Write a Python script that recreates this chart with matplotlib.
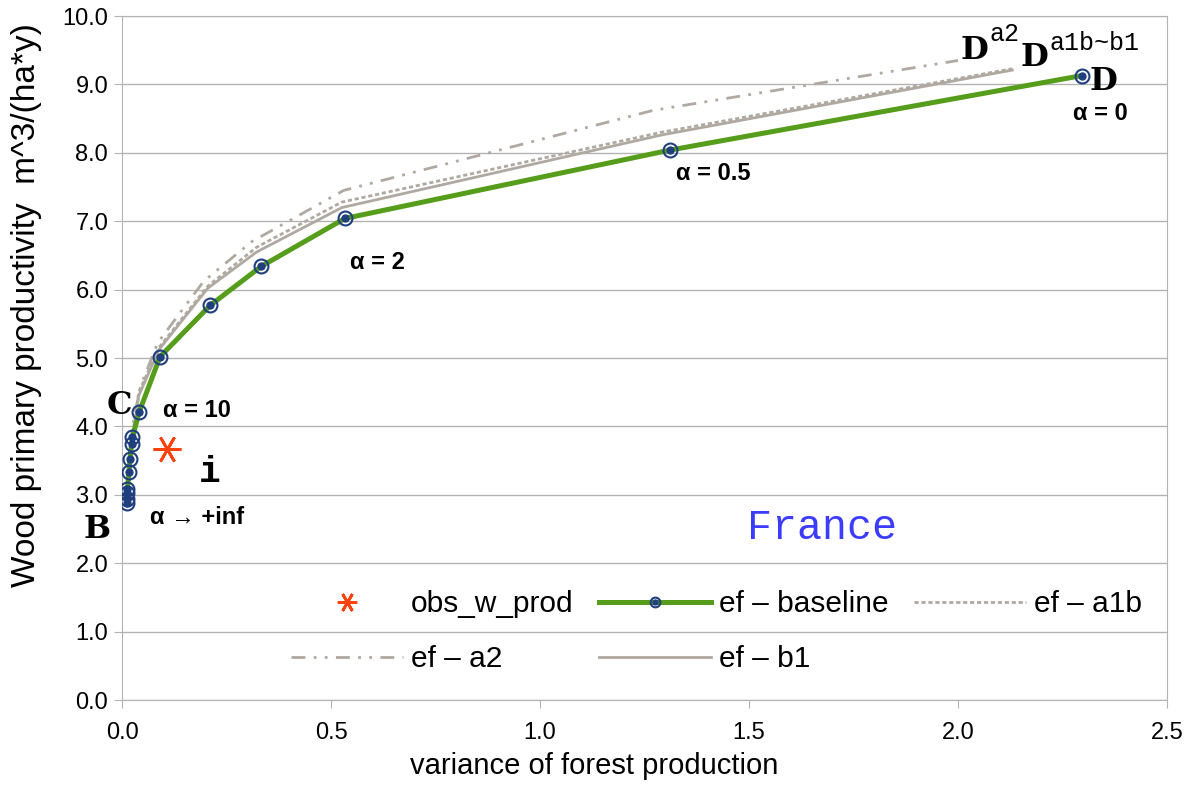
import numpy as np
import matplotlib.pyplot as plt
from matplotlib.legend_handler import HandlerTuple

# efficient frontier under the baseline climate
base_var = [0.011, 0.011, 0.012, 0.013, 0.017, 0.019, 0.023, 0.025, 0.041,
            0.091, 0.211, 0.333, 0.533, 1.311, 2.297]
base_prod = [2.88, 2.94, 3.03, 3.09, 3.34, 3.52, 3.75, 3.84, 4.21,
             5.02, 5.77, 6.34, 7.04, 8.04, 9.13]

# frontiers under the climate scenarios
scen_var = [0.010, 0.015, 0.025, 0.040, 0.088, 0.205, 0.322, 0.526, 1.29, 2.13]
a1b_prod = [2.90, 3.33, 3.88, 4.50, 5.15, 6.05, 6.62, 7.28, 8.30, 9.23]
b1_prod = [2.88, 3.30, 3.85, 4.45, 5.12, 6.02, 6.55, 7.20, 8.26, 9.21]
a2_var = [0.010, 0.015, 0.025, 0.045, 0.085, 0.195, 0.31, 0.53, 1.27, 2.0]
a2_prod = [2.92, 3.40, 4.00, 4.60, 5.22, 6.12, 6.70, 7.45, 8.62, 9.35]

# observed wood production
obs_var = [0.108]
obs_prod = [3.67]

green = '#579d1c'
navy = '#1f3f7f'
grey = '#b0a9a1'
red = '#ff420e'

plt.rcParams['font.family'] = ['Liberation Sans', 'DejaVu Sans']

fig = plt.figure(figsize=(11.94, 7.9), dpi=100)
ax = fig.add_axes([0.1022, 0.1139, 0.8752, 0.8658])

ax.set_xlim(0, 2.5)
ax.set_ylim(0, 10)
ax.set_xticks(np.arange(0, 2.51, 0.5))
ax.set_yticks(np.arange(0, 10.01, 1.0))
ax.set_xticklabels(['%.1f' % v for v in np.arange(0, 2.51, 0.5)])
ax.set_yticklabels(['%.1f' % v for v in np.arange(0, 10.01, 1.0)])
ax.yaxis.grid(True, color='#b3b3b3', linewidth=1)
ax.set_axisbelow(True)
for s in ax.spines.values():
    s.set_color('#b3b3b3')
ax.tick_params(colors='#b3b3b3', labelcolor='black', labelsize=17, length=6)
ax.tick_params(axis='x', pad=10)
ax.tick_params(axis='y', pad=4)

b1_line, = ax.plot(scen_var, b1_prod, color=grey, lw=2, zorder=2)
a1b_line, = ax.plot(scen_var, a1b_prod, color=grey, lw=2, dashes=(1.5, 1), zorder=2)
a2_line, = ax.plot(a2_var, a2_prod, color=grey, lw=2,
                   dashes=(5, 3, 1, 3, 1, 3), zorder=2)

base_line, = ax.plot(base_var, base_prod, color=green, lw=3.6, marker='o', ms=10,
                     mfc='none', mec=navy, mew=1.5, zorder=3)
base_dots, = ax.plot(base_var, base_prod, ls='none', marker='o', ms=5,
                     color=navy, zorder=4)

obs_pts, = ax.plot(obs_var, obs_prod, ls='none', marker=(6, 2, 90), ms=20,
                   mew=2, color=red, zorder=4)

ax.set_xlabel('variance of forest production', fontsize=21)
ax.xaxis.set_label_coords(0.452, -0.076)
ax.set_ylabel('Wood primary productivity  m^3/(ha*y)', fontsize=24)
ax.yaxis.set_label_coords(-0.077, 0.577)

# point names
serif = dict(family='DejaVu Serif', fontweight='bold', fontsize=23)
ax.text(-0.006, 4.3, 'C', ha='center', va='center', **serif)
ax.text(-0.06, 2.5, 'B', ha='center', va='center', **serif)
ax.text(0.21, 3.33, 'i', ha='center', va='center',
        family='Liberation Mono', fontweight='bold', fontsize=26)
ax.text(2.315, 9.05, 'D', ha='left', va='center', **serif)
ax.text(2.04, 9.5, 'D', ha='center', va='center', **serif)
ax.text(2.075, 9.74, 'a2', ha='left', va='center', family='Liberation Mono', fontsize=18)
ax.text(2.184, 9.39, 'D', ha='center', va='center', **serif)
ax.text(2.22, 9.6, 'a1b~b1', ha='left', va='center', family='Liberation Mono', fontsize=18)

ax.text(1.675, 2.52, 'France', ha='center', va='center', color='#3c3cff',
        family='Liberation Mono', fontsize=30)

# risk aversion levels
alpha = dict(fontsize=17, fontweight='bold', ha='center', va='center')
ax.text(0.18, 4.23, 'α = 10', **alpha)
ax.text(0.18, 2.67, 'α → +inf', **alpha)
ax.text(0.61, 6.4, 'α = 2', **alpha)
ax.text(1.414, 7.7, 'α = 0.5', **alpha)
ax.text(2.34, 8.57, 'α = 0', **alpha)

handles = [obs_pts, a2_line, (base_line, base_dots), b1_line, a1b_line]
labels = ['obs_w_prod', 'ef – a2', 'ef – baseline', 'ef – b1', 'ef – a1b']
ax.legend(handles, labels, ncol=3, loc='upper left', bbox_to_anchor=(0.147, 0.182),
          frameon=False, fontsize=21.5, handlelength=3.75, handletextpad=0.27,
          columnspacing=0.85, labelspacing=0.9, borderpad=0, markerscale=0.7,
          handler_map={tuple: HandlerTuple(ndivide=1, pad=0)})

fig.savefig('out.png', dpi=100)
